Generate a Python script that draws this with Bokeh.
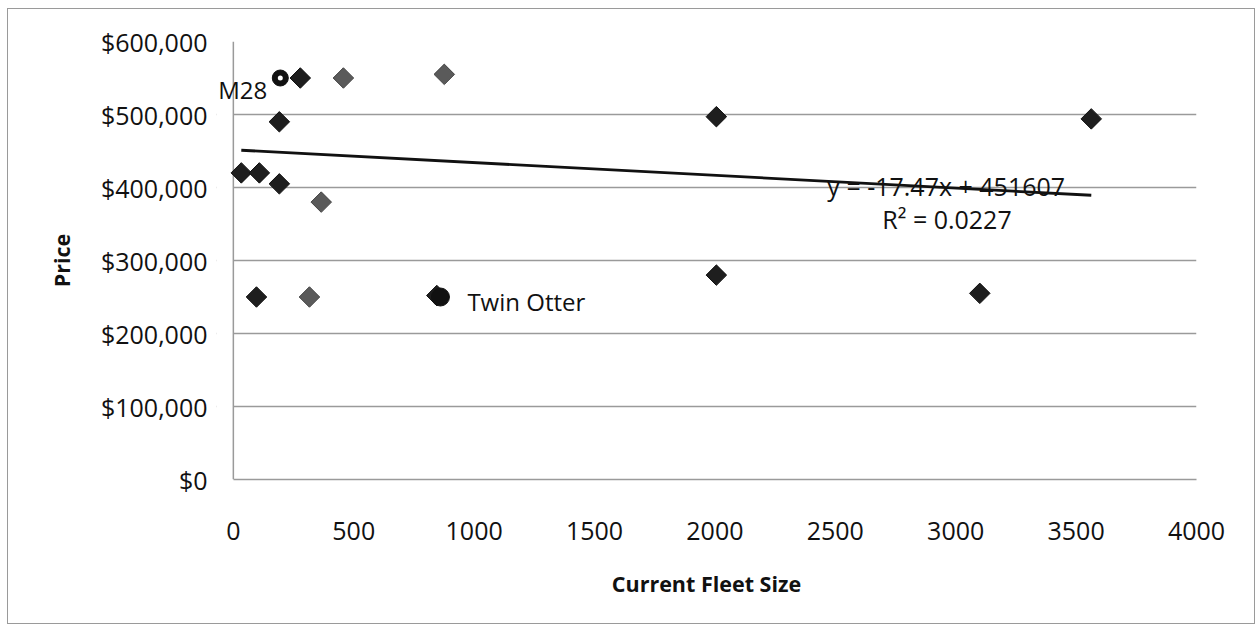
import math
from bokeh.plotting import figure
from bokeh.models import (Range1d, NumeralTickFormatter, FixedTicker, ColumnDataSource,
                          LabelSet, BoxAnnotation, Span)
from bokeh.core.properties import value
from bokeh.embed import file_html
from bokeh.resources import INLINE

# dark diamond series
dark_x = [33, 108, 191, 191, 278, 96, 2006, 2006, 3563, 3100, 845]
dark_y = [420000, 420000, 405000, 490000, 550000, 250000, 497000, 280000, 494000, 255000, 252000]
# grey diamond series
grey_x = [457, 876, 365, 316]
grey_y = [550000, 555000, 380000, 250000]
# highlighted aircraft
m28_x = [195]
m28_y = [550000]
otter_x = [860]
otter_y = [250000]
# point labels
label_text = ["M28", "Twin Otter"]
label_x = [141, 972]
label_y = [534000, 244000]
# trendline
slope = -17.47
intercept = 451607
r2 = 0.0227
trend_x = [33, 3563]
eq_x = [2467, 2695]
eq_y = [402000, 357000]

y_ticks = [0, 100000, 200000, 300000, 400000, 500000, 600000]
x_ticks = [0, 500, 1000, 1500, 2000, 2500, 3000, 3500, 4000]

FONT = "Open Sans"
W = 1246
H = 614
LEFT = 208
TOP = 32
FW = 980

p = figure(frame_width=FW, frame_height=438, output_backend="svg", toolbar_location=None,
           x_range=Range1d(-70, 4000), y_range=Range1d(0, 600000),
           min_border_left=LEFT, min_border_right=W - LEFT - FW, min_border_top=TOP,
           min_border_bottom=H - TOP - 438)
p.outline_line_color = None
p.background_fill_color = "white"
p.border_fill_color = "white"
p.styles = {"border": "1.5px solid #9a9a9a", "margin-left": "7px", "margin-top": "8px"}

p.xgrid.grid_line_color = None
p.ygrid.grid_line_color = "#9a9a9a"
p.ygrid.grid_line_width = 1.5
p.ygrid.ticker = FixedTicker(ticks=y_ticks)

p.yaxis.ticker = FixedTicker(ticks=y_ticks)
p.xaxis.ticker = FixedTicker(ticks=x_ticks)
p.yaxis.formatter = NumeralTickFormatter(format="$0,0")
p.xaxis.bounds = (0, 4000)

for ax in (p.xaxis[0], p.yaxis[0]):
    ax.axis_line_color = "#9a9a9a"
    ax.axis_line_width = 1.5
    ax.major_tick_line_color = None
    ax.minor_tick_line_color = None
    ax.major_label_text_font = FONT
    ax.major_label_text_font_size = "25px"
    ax.major_label_text_color = "#111111"
    ax.axis_label_text_font = FONT
    ax.axis_label_text_font_size = "21.5px"
    ax.axis_label_text_font_style = "bold"
    ax.axis_label_text_color = "#111111"

p.yaxis.axis_line_color = None
p.yaxis.axis_label = "Price"
p.xaxis.axis_label = "Current Fleet Size"
p.yaxis.major_label_standoff = 3
p.xaxis.major_label_standoff = 36
p.yaxis.axis_label_standoff = 22
p.xaxis.axis_label_standoff = 26

# blank the gridlines left of the value axis, then draw the value axis line at x = 0
p.add_layout(BoxAnnotation(right=0, fill_color="white", fill_alpha=1, line_color=None,
                           level="underlay"))
p.add_layout(Span(location=0, dimension="height", line_color="#9a9a9a", line_width=1.5,
                  level="underlay"))

# trendline from equation
trend_y = [slope * x + intercept for x in trend_x]
p.line(trend_x, trend_y, line_color="#111111", line_width=2.8)

ang = math.pi / 4
p.scatter(grey_x, grey_y, marker="square", size=14.5, angle=ang,
          fill_color="#5a5a5a", line_color="#444444", line_width=1)
p.scatter(dark_x, dark_y, marker="square", size=14.5, angle=ang,
          fill_color="#1e1e1e", line_color="#111111", line_width=1)
p.scatter(m28_x, m28_y, marker="circle", size=16, fill_color="#111111", line_color="#111111")
p.scatter(m28_x, m28_y, marker="circle", size=5, fill_color="white", line_color=None)
p.scatter(otter_x, otter_y, marker="circle", size=18, fill_color="#111111", line_color="#111111")

lab_src = ColumnDataSource(dict(x=label_x, y=label_y, t=label_text, align=["right", "left"]))
p.add_layout(LabelSet(x="x", y="y", text="t", text_align="align", text_baseline="middle",
                      source=lab_src, text_font=value(FONT), text_font_size=value("24px"),
                      text_color="#111111"))

eq_src = ColumnDataSource(dict(x=eq_x, y=eq_y,
                               t=["y = %.2fx + %d" % (slope, intercept), "R\u00b2 = %.4f" % r2]))
p.add_layout(LabelSet(x="x", y="y", text="t", text_align="left", text_baseline="middle",
                      source=eq_src, text_font=value(FONT), text_font_size=value("25px"),
                      text_color="#111111"))

open("out.html", "w").write(file_html(p, INLINE))
